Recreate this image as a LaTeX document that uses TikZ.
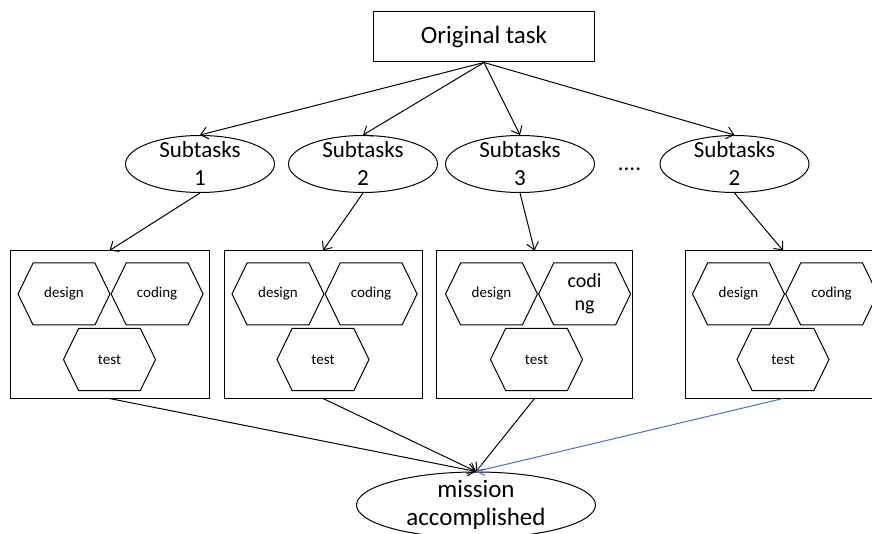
\documentclass[tikz,border=0pt]{standalone}
\usepackage{fontspec}
\setmainfont{Carlito}
\usetikzlibrary{shapes.geometric, shapes.symbols, arrows.meta, positioning}
\definecolor{lineblue}{RGB}{68,114,196}

\begin{document}
\begin{tikzpicture}[
    x=1pt, y=1pt, line width=1pt,
    taskbox/.style={rectangle, draw, minimum width=221pt, minimum height=50pt, font=\fontsize{25}{30}\selectfont},
    subtask/.style={ellipse, draw, minimum width=149pt, minimum height=57pt},
    subtext/.style={align=center, inner sep=0pt, font=\fontsize{23}{28}\selectfont},
    workbox/.style={rectangle, draw, minimum width=198pt, minimum height=147pt},
    hexa/.style={signal, signal to=east and west, signal pointer angle=128, draw, minimum width=92pt, minimum height=62pt, inner sep=0pt, align=center, font=\fontsize{15}{18}\selectfont},
    arrow/.style={-{Straight Barb[length=7pt,width=12pt]}}
]
    \clip (0,0) rectangle (872,533);

    % Top task
    \node[taskbox] (task) at (484,496) {Original task};

    % Subtasks
    \node[subtask] (s1) at (200,369) {};
    \node[subtask] (s2) at (363,369) {};
    \node[subtask] (s3) at (520,369) {};
    \node[subtask] (s4) at (734.5,369) {};
    \node[subtext] (s1t) at (s1) {Subtasks\\1};
    \node[subtext] (s2t) at (s2) {Subtasks\\2};
    \node[subtext] (s3t) at (s3) {Subtasks\\3};
    \node[subtext] (s4t) at (s4) {Subtasks\\2};
    \node[subtext] (dots) at (629.5,364) {....};

    % Work boxes
    \node[workbox, minimum width=199pt] (b1) at (109.5,208.5) {};
    \node[workbox] (b2) at (323,208.5) {};
    \node[workbox, minimum width=196pt] (b3) at (534.5,208.5) {};
    \node[workbox, minimum width=196pt] (b4) at (783,208.5) {};

    % Steps inside each box
    \node[hexa, xshift=-45.5pt, yshift=30.5pt] (d1) at (b1) {design};
    \node[hexa, right=0pt of d1] (c1) {coding};
    \node[hexa, yshift=-35pt] (t1) at (b1) {test};

    \node[hexa, xshift=-45pt, yshift=30.5pt] (d2) at (b2) {design};
    \node[hexa, right=0pt of d2] (c2) {coding};
    \node[hexa, yshift=-35pt] (t2) at (b2) {test};

    \node[hexa, xshift=-43pt, yshift=30.5pt] (d3) at (b3) {design};
    \node[hexa, right=0pt of d3, font=\fontsize{20}{23}\selectfont] (c3) {codi\\ng};
    \node[hexa, xshift=2pt, yshift=-35pt] (t3) at (b3) {test};

    \node[hexa, xshift=-44.5pt, yshift=30.5pt] (d4) at (b4) {design};
    \node[hexa, right=0pt of d4] (c4) {coding};
    \node[hexa, yshift=-35pt] (t4) at (b4) {test};

    % Goal
    \node[subtask, minimum width=239pt, minimum height=66pt] (goal) at (476,28) {};
    \node[subtext, font=\fontsize{25}{28}\selectfont] (goalt) at (goal) {mission\\accomplished};

    % Arrows - split
    \draw[arrow] (task.south) -- (s1.north);
    \draw[arrow] (task.south) -- (s2.north);
    \draw[arrow] (task.south) -- (s3.north);
    \draw[arrow] (task.south) -- (s4.north);

    \draw[arrow] (s1.south) -- (b1.north);
    \draw[arrow] (s2.south) -- (b2.north);
    \draw[arrow] (s3.south) -- (b3.north);
    \draw[arrow] (s4.south) -- (b4.north);

    % Arrows - merge
    \draw[arrow] (b1.south) -- (goal.north);
    \draw[arrow] (b2.south) -- (goal.north);
    \draw[arrow] (b3.south) -- (goal.north);
    \draw[arrow, lineblue] (b4.south) -- (goal.north);

\end{tikzpicture}
\end{document}
